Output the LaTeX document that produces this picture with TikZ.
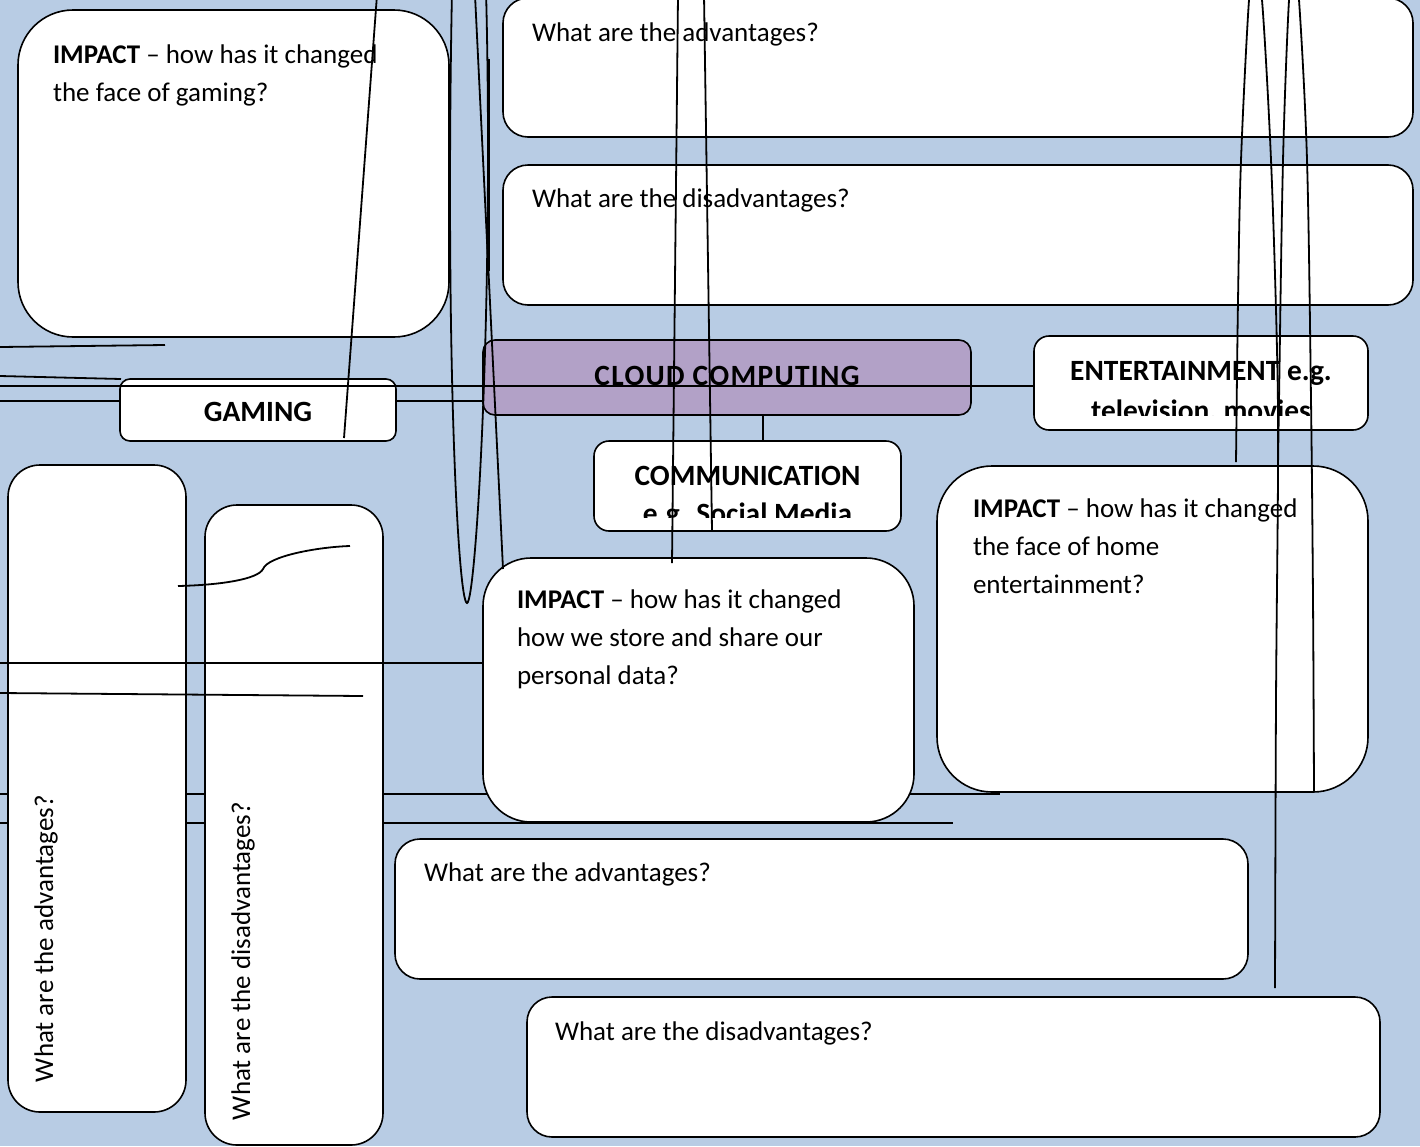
\documentclass[tikz,border=0pt]{standalone}
\usepackage{fontspec}
\setmainfont{Carlito}
\definecolor{bgblue}{HTML}{B8CCE4}
\definecolor{cloudpurple}{HTML}{B2A1C7}
\begin{document}
\begin{tikzpicture}[x=1pt,y=-1pt,
  box/.style={draw=black, line width=1.6pt, fill=white, rounded corners=#1, inner sep=0pt, outer sep=0pt},
  box/.default=25pt,
  body/.style={inner sep=0pt, outer sep=0pt, anchor=base west, font=\fontsize{27}{32}\selectfont},
  head/.style={inner sep=0pt, outer sep=0pt, anchor=base, font=\fontsize{29.4}{36}\selectfont\bfseries},
  wire/.style={draw=black, line width=1.8pt},
]
\useasboundingbox (0,0) rectangle (1420,1146);
\clip (0,0) rectangle (1420,1146);
\fill[bgblue] (0,0) rectangle (1420,1146);

% coordinates for wire ends
\coordinate (wa1) at (0,347);   \coordinate (wa2) at (165,345);
\coordinate (wb1) at (0,376);   \coordinate (wb2) at (121,379);
\coordinate (wc1) at (0,386);   \coordinate (wc2) at (1034,386);
\coordinate (wd1) at (0,401);   \coordinate (wd2) at (483,401);
\coordinate (we1) at (377,-5);  \coordinate (we2) at (344,438);
\coordinate (wf1) at (475,-5);  \coordinate (wf2) at (503,569);
\coordinate (wg1) at (489,59);  \coordinate (wg2) at (489,271);
\coordinate (wh1) at (678,-5);  \coordinate (wh2) at (672,563);
\coordinate (wi1) at (704,-5);  \coordinate (wi2) at (712,531);
\coordinate (wj1) at (763,415); \coordinate (wj2) at (763,441);
\coordinate (wk1) at (0,663);   \coordinate (wk2) at (483,663);
\coordinate (wl1) at (0,693);   \coordinate (wl2) at (363,696);
\coordinate (wm1) at (178,586); \coordinate (wm2) at (263,569); \coordinate (wm3) at (350,546);
\coordinate (wn1) at (0,794);   \coordinate (wn2) at (1000,794);
\coordinate (wo1) at (0,823);   \coordinate (wo2) at (953,823);
\coordinate (lp1) at (452,-10); \coordinate (lp2) at (467,603); \coordinate (lp3) at (486,-10);

% wires behind the boxes
\draw[wire] (wd1) -- (wd2);
\draw[wire] (wn1) -- (wn2);
\draw[wire] (wo1) -- (wo2);

% boxes
\node[box=55pt, minimum width=431pt, minimum height=327pt] (impG) at (233.5,173.5) {};
\node[box=25pt, minimum width=910pt, minimum height=139pt] (advT) at (958,67.5) {};
\node[box=25pt, minimum width=910pt, minimum height=140pt] (disT) at (958,235) {};
\node[box=12pt, fill=cloudpurple, minimum width=488pt, minimum height=75pt] (cloud) at (727,377.5) {};
\node[box=10pt, minimum width=276pt, minimum height=62pt] (gaming) at (258,410) {};
\node[box=15pt, minimum width=334pt, minimum height=94pt] (ent) at (1201,383) {};
\node[box=15pt, minimum width=307pt, minimum height=90pt] (comm) at (747.5,486) {};
\node[box=48pt, minimum width=431pt, minimum height=264pt] (impC) at (698.5,690) {};
\node[box=55pt, minimum width=431pt, minimum height=326pt] (impE) at (1152.5,629) {};
\node[box=32pt, minimum width=178pt, minimum height=647pt] (advL) at (97,788.5) {};
\node[box=32pt, minimum width=178pt, minimum height=640pt] (disL) at (294,825) {};
\node[box=25pt, minimum width=853pt, minimum height=140pt] (advB) at (821.5,909) {};
\node[box=25pt, minimum width=853pt, minimum height=140pt] (disB) at (953.5,1067) {};

% texts
\node[body] (tG1) at (53,63) {\textbf{IMPACT} – how has it changed};
\node[body] (tG2) at (53,101) {the face of gaming?};
\node[body] (tAT) at (532,41) {What are the advantages?};
\node[body] (tDT) at (532,207) {What are the disadvantages?};
\node[body] (tC1) at (517,608) {\textbf{IMPACT} – how has it changed};
\node[body] (tC2) at (517,646) {how we store and share our};
\node[body] (tC3) at (517,684) {personal data?};
\node[body] (tE1) at (973,517) {\textbf{IMPACT} – how has it changed};
\node[body] (tE2) at (973,555) {the face of home};
\node[body] (tE3) at (973,593) {entertainment?};
\node[body] (tAB) at (424,881) {What are the advantages?};
\node[body] (tDB) at (555,1040) {What are the disadvantages?};
\node[body, rotate=90] (tAL) at (53,1082) {What are the advantages?};
\node[body, rotate=90] (tDL) at (250,1120) {What are the disadvantages?};

\node[head] (hCloud) at (727,385) {\addfontfeature{LetterSpace=4.5}CLOUD COMPUTING};
\node[head] (hGame) at (258,421) {GAMING};
\node[head] (hComm) at (747.5,485) {COMMUNICATION};
\node[head] (hEnt) at (1201,380) {ENTERTAINMENT e.g.};
\begin{scope}
  \clip (594,441) rectangle (901,517);
  \node[head] (hComm2) at (747.5,523) {e.g. Social Media};
\end{scope}
\begin{scope}
  \clip (1034,336) rectangle (1368,415);
  \node[head] (hEnt2) at (1201,420) {television, movies};
\end{scope}

% wires on top
\draw[wire] (wa1) -- (wa2);
\draw[wire] (wb1) -- (wb2);
\draw[wire] (wc1) -- (wc2);
\draw[wire] (we1) -- (we2);
\draw[wire] (wf1) -- (wf2);
\draw[wire] (wg1) -- (wg2);
\draw[wire] (wh1) -- (wh2);
\draw[wire] (wi1) -- (wi2);
\draw[wire] (wj1) -- (wj2);
\draw[wire] (wk1) -- (wk2);
\draw[wire] (wl1) -- (wl2);
\draw[wire] (wm1) .. controls (222,585) and (258,579) .. (wm2) .. controls (268,556) and (318,547) .. (wm3);
\draw[wire] (lp1) .. controls (445,350) and (458,603) .. (lp2) .. controls (476,603) and (494,300) .. (lp3);
\draw[wire] plot[smooth, tension=0.55] coordinates {(1236,462) (1238,300) (1241,160) (1249,0) (1255,-35) (1262,0) (1271,160) (1277,350) (1278,470) (1276,700) (1275,988)};
\draw[wire] plot[smooth, tension=0.55] coordinates {(1278,466) (1279,400) (1283,160) (1289,0) (1294,-28) (1299,0) (1307,160) (1311,400) (1313,600) (1314,792)};
\end{tikzpicture}
\end{document}
